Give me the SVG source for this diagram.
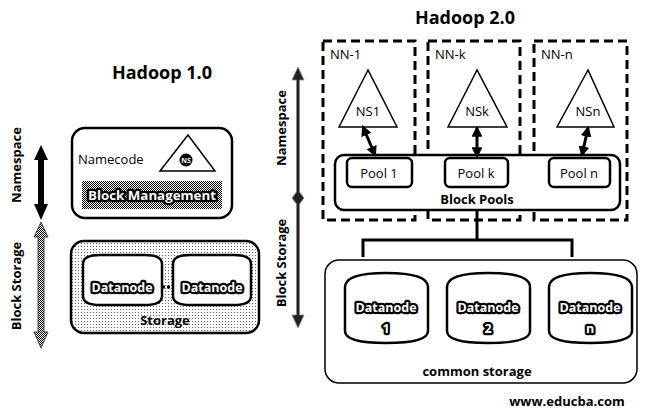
<svg xmlns="http://www.w3.org/2000/svg" width="648" height="412" viewBox="0 0 648 412">
<style>
text{font-family:"Open Sans","Liberation Sans",sans-serif;fill:#000}
.title{font-size:18px;font-weight:bold}
.side{font-size:13px;font-weight:bold}
.lbl{font-size:13px}
.dn{font-size:12.5px;font-weight:bold;fill:#fff;stroke:#000;stroke-width:4.5px;paint-order:stroke;stroke-linejoin:round}
.box{fill:#fff;stroke:#000;stroke-width:2.5}
.dash{fill:none;stroke:#000;stroke-width:3;stroke-dasharray:9,5}
.cyl{fill:#fff;stroke:#000;stroke-width:2.5}
.tri{fill:#fff;stroke:#000;stroke-width:1.5}
.conn{stroke:#000;stroke-width:3;fill:none}
</style>
<defs>
<pattern id="dots" width="3" height="3" patternUnits="userSpaceOnUse"><rect width="3" height="3" fill="#fff"/><rect width="1" height="1" fill="#666"/></pattern>
<pattern id="hatch" width="2" height="2" patternUnits="userSpaceOnUse"><rect width="2" height="2" fill="#fff"/><rect width="1" height="1" fill="#000"/><rect x="1" y="1" width="1" height="1" fill="#000"/></pattern>
<marker id="ah" viewBox="0 0 10 10" refX="8" refY="5" markerWidth="3.6" markerHeight="3.6" orient="auto-start-reverse"><path d="M0,0 L10,5 L0,10 z" fill="#000"/></marker>
</defs>
<rect width="648" height="412" fill="#fff"/>

<text class="title" x="162" y="79" text-anchor="middle">Hadoop 1.0</text>
<text class="title" x="465" y="24" text-anchor="middle">Hadoop 2.0</text>

<g id="left-axis">
<text class="side" transform="translate(21,165) rotate(-90)" text-anchor="middle">Namespace</text>
<text class="side" transform="translate(21,286) rotate(-90)" text-anchor="middle">Block Storage</text>
<path d="M41,145 L48,160 L44,160 L44,204 L48,204 L41,220 L34,204 L38,204 L38,160 L34,160 Z" fill="#000"/>
<path d="M41,222 L48,237 L44,237 L44,332 L48,332 L41,348 L34,332 L38,332 L38,237 L34,237 Z" fill="url(#hatch)" stroke="#444" stroke-width="1"/>
</g>

<g id="namenode1">
<rect class="box" x="72" y="128" width="160" height="90" rx="13"/>
<text class="lbl" x="78" y="164">Namecode</text>
<polygon class="tri" points="188,135 160,171 215,171"/>
<circle cx="186" cy="160" r="6.5" fill="#000"/>
<text x="186" y="163" text-anchor="middle" font-size="7" font-weight="bold" style="fill:#fff">NS</text>
<rect x="82" y="181" width="140" height="28" fill="url(#hatch)"/>
<text class="dn" x="152" y="200" text-anchor="middle" font-size="13" textLength="128" lengthAdjust="spacingAndGlyphs">Block Management</text>
</g>

<g id="storage1">
<rect x="71" y="241" width="188" height="92" rx="13" fill="url(#dots)" stroke="#000" stroke-width="2.5"/>
<path class="cyl" d="M83,264 Q83,255 100,255 L145,255 Q162,255 162,264 L162,296 Q162,305 145,305 L100,305 Q83,305 83,296 Z"/>
<path class="cyl" d="M173,264 Q173,255 190,255 L234,255 Q251,255 251,264 L251,296 Q251,305 234,305 L190,305 Q173,305 173,296 Z"/>
<text class="dn" x="122" y="292" text-anchor="middle">Datanode</text>
<text class="dn" x="212" y="292" text-anchor="middle">Datanode</text>
<line x1="162" y1="287" x2="174" y2="287" stroke="#000" stroke-width="3" stroke-dasharray="3,2"/>
<text class="lbl" x="165" y="325" text-anchor="middle" font-weight="bold">Storage</text>
</g>

<g id="right-axis">
<text class="side" transform="translate(286,128) rotate(-90)" text-anchor="middle">Namespace</text>
<text class="side" transform="translate(286,263) rotate(-90)" text-anchor="middle">Block Storage</text>
<path d="M298,67 L304,80 L299.5,80 L299.5,192 L304,198 L299.5,204 L299.5,315 L304,315 L298,328 L292,315 L296.5,315 L296.5,204 L292,198 L296.5,192 L296.5,80 L292,80 Z" fill="#222" stroke="#888" stroke-width="0.8"/>
</g>

<g id="nn-1">
<rect class="dash" x="323" y="41" width="92" height="179"/>
<text class="lbl" x="330" y="59">NN-1</text>
<polygon class="tri" points="368,70 339,127 397,127"/>
<text class="lbl" x="368" y="116" text-anchor="middle">NS1</text>
</g>
<g id="nn-k">
<rect class="dash" x="428" y="41" width="92" height="179"/>
<text class="lbl" x="435" y="59">NN-k</text>
<polygon class="tri" points="477,70 448,127 507,127"/>
<text class="lbl" x="477" y="116" text-anchor="middle">NSk</text>
</g>
<g id="nn-n">
<rect class="dash" x="534" y="41" width="93" height="179"/>
<text class="lbl" x="541" y="59">NN-n</text>
<polygon class="tri" points="588,70 557,127 614,127"/>
<text class="lbl" x="588" y="116" text-anchor="middle">NSn</text>
</g>

<g id="block-pools">
<rect x="335" y="155" width="285" height="55" rx="9" fill="#fff" stroke="#000" stroke-width="2.5"/>
<text class="lbl" x="477" y="204" text-anchor="middle" font-weight="bold" font-size="12">Block Pools</text>
</g>
<g id="pool-1"><rect class="box" x="347" y="158" width="65" height="29" rx="5"/><text class="lbl" x="379" y="178" text-anchor="middle">Pool 1</text></g>
<g id="pool-k"><rect class="box" x="445" y="158" width="63" height="29" rx="5"/><text class="lbl" x="476" y="178" text-anchor="middle">Pool k</text></g>
<g id="pool-n"><rect class="box" x="549" y="158" width="61" height="29" rx="5"/><text class="lbl" x="579" y="178" text-anchor="middle">Pool n</text></g>

<g id="common-storage">
<rect x="325" y="260" width="312" height="123" rx="14" fill="#fff" stroke="#000" stroke-width="1.5"/>
<text class="lbl" x="477" y="376" text-anchor="middle" font-weight="bold" font-size="11.5">common storage</text>
</g>
<g id="datanode-1">
<path class="cyl" d="M345,287 Q345,273 386,273 Q428,273 428,287 L428,331 Q428,343 386,343 Q345,343 345,331 Z"/>
<text class="dn" x="386" y="312" text-anchor="middle">Datanode</text>
<text class="dn" x="386" y="333" text-anchor="middle">1</text>
</g>
<g id="datanode-2">
<path class="cyl" d="M447,287 Q447,273 488,273 Q530,273 530,287 L530,331 Q530,343 488,343 Q447,343 447,331 Z"/>
<text class="dn" x="488" y="312" text-anchor="middle">Datanode</text>
<text class="dn" x="488" y="333" text-anchor="middle">2</text>
</g>
<g id="datanode-n">
<path class="cyl" d="M549,287 Q549,273 590,273 Q632,273 632,287 L632,331 Q632,343 590,343 Q549,343 549,331 Z"/>
<text class="dn" x="590" y="312" text-anchor="middle">Datanode</text>
<text class="dn" x="590" y="333" text-anchor="middle">n</text>
</g>

<g id="connectors">
<line class="conn" x1="363" y1="127" x2="375" y2="155" marker-start="url(#ah)" marker-end="url(#ah)"/>
<line class="conn" x1="477" y1="128" x2="477" y2="156" marker-start="url(#ah)" marker-end="url(#ah)"/>
<line class="conn" x1="588" y1="128" x2="582" y2="155" marker-start="url(#ah)" marker-end="url(#ah)"/>
<line class="conn" x1="477" y1="210" x2="477" y2="240"/>
<path class="conn" d="M363,257 L363,240 L572,240 L572,257"/>
</g>

<text x="567" y="406" text-anchor="middle" font-size="13" font-weight="bold">www.educba.com</text>
</svg>
